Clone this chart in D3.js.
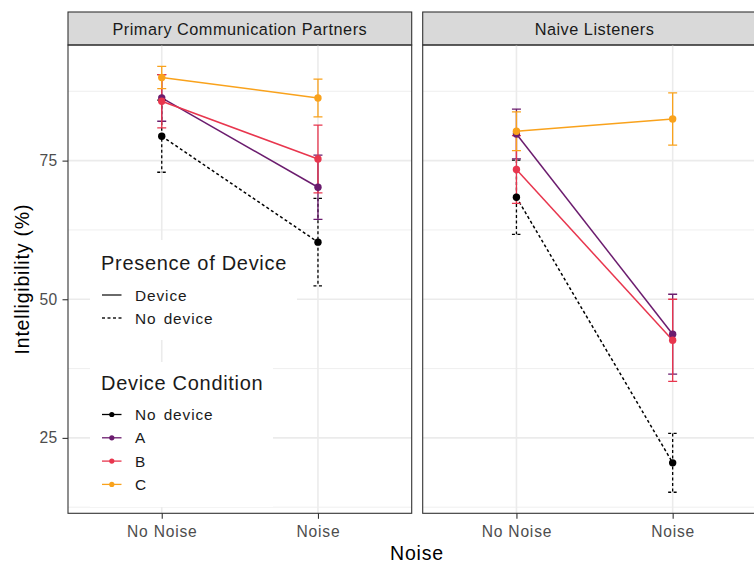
<!DOCTYPE html>
<html>
<head>
<meta charset="utf-8">
<script src="https://cdn.jsdelivr.net/npm/d3@7/dist/d3.min.js"></script>
<style>
  body { margin: 0; background: #fff; overflow: hidden; }
  svg { display: block; font-family: "Liberation Sans", Arial, sans-serif; }
</style>
</head>
<body>
<svg id="chart" width="754" height="563"></svg>
<script>
// data
const noiseLevels = ['No Noise', 'Noise'];
const listenerGroups = ['Primary Communication Partners', 'Naive Listeners'];
const conditions = ['No device', 'A', 'B', 'C'];
const presence = ['Device', 'No device'];
const yTicks = [25, 50, 75];

// rows follow `conditions`, columns follow `noiseLevels`
const pcpMean = [[79.4, 60.3], [86.3, 70.2], [85.7, 75.3], [90.0, 86.3]];
const pcpErr = [[6.5, 7.9], [4.2, 5.8], [4.8, 6.1], [2.0, 3.4]];
const nlMean = [[68.4, 20.5], [79.8, 43.7], [73.4, 42.6], [80.3, 82.5]];
const nlErr = [[6.7, 5.3], [4.5, 7.2], [6.1, 7.4], [3.5, 4.7]];

const panelData = [
  { mean: pcpMean, err: pcpErr },
  { mean: nlMean, err: nlErr }
];

const svg = d3.select('#chart');

const panelW = 343.7;
const panelTop = 45;
const panelBottom = 513.3;
const stripTop = 12;
const panelLefts = [68, 422.7];
const font = '"Liberation Sans", Arial, sans-serif';

const color = d3.scaleOrdinal()
  .domain(conditions)
  .range(['#000000', '#6B1C6E', '#E8364E', '#F9A21C']);
const dashOf = c => (c === 'No device' ? '3,2.5' : null);

const x = d3.scalePoint().domain(noiseLevels).range([0, panelW]).padding(0.6);
const y = d3.scaleLinear().domain([11.4, 95.85]).range([panelBottom, panelTop]);
const minorTicks = [12.5, 37.5, 62.5, 87.5];

listenerGroups.forEach((group, gi) => {
  const g = svg.append('g').attr('transform', 'translate(' + panelLefts[gi] + ',0)');
  const data = panelData[gi];

  // strip
  g.append('rect')
    .attr('x', 0).attr('y', stripTop)
    .attr('width', panelW).attr('height', panelTop - stripTop)
    .attr('fill', '#D9D9D9').attr('stroke', '#333333').attr('stroke-width', 1.1);
  g.append('text')
    .attr('x', panelW / 2).attr('y', 35)
    .attr('text-anchor', 'middle').attr('font-size', 16.3).attr('letter-spacing', 0.5)
    .attr('fill', '#1A1A1A')
    .text(group);

  // grid
  g.selectAll('.minor').data(minorTicks).enter().append('line')
    .attr('x1', 0).attr('x2', panelW)
    .attr('y1', d => y(d)).attr('y2', d => y(d))
    .attr('stroke', '#EBEBEB').attr('stroke-width', 0.8);
  g.selectAll('.major').data(yTicks).enter().append('line')
    .attr('x1', 0).attr('x2', panelW)
    .attr('y1', d => y(d)).attr('y2', d => y(d))
    .attr('stroke', '#EBEBEB').attr('stroke-width', 1.6);
  g.selectAll('.vgrid').data(noiseLevels).enter().append('line')
    .attr('x1', d => x(d)).attr('x2', d => x(d))
    .attr('y1', panelTop).attr('y2', panelBottom)
    .attr('stroke', '#EBEBEB').attr('stroke-width', 1.6);

  const series = conditions.map((c, ci) => ({
    cond: c,
    pts: noiseLevels.map((n, ni) => ({ n: n, m: data.mean[ci][ni], e: data.err[ci][ni] }))
  }));

  const line = d3.line().x(d => x(d.n)).y(d => y(d.m));

  // lines
  g.selectAll('.series').data(series).enter().append('path')
    .attr('d', d => line(d.pts))
    .attr('fill', 'none')
    .attr('stroke', d => color(d.cond))
    .attr('stroke-width', 1.5)
    .attr('stroke-dasharray', d => dashOf(d.cond));

  // error bars
  series.forEach(s => {
    const eb = g.append('g');
    s.pts.forEach(p => {
      const cx = x(p.n);
      eb.append('path')
        .attr('d', 'M' + (cx - 4.5) + ',' + y(p.m + p.e) + 'H' + (cx + 4.5) +
          'M' + cx + ',' + y(p.m + p.e) + 'V' + y(p.m - p.e) +
          'M' + (cx - 4.5) + ',' + y(p.m - p.e) + 'H' + (cx + 4.5))
        .attr('fill', 'none')
        .attr('stroke', color(s.cond))
        .attr('stroke-width', 1.3)
        .attr('stroke-dasharray', dashOf(s.cond));
    });
  });

  // points
  series.forEach(s => {
    g.selectAll(null).data(s.pts).enter().append('circle')
      .attr('cx', d => x(d.n)).attr('cy', d => y(d.m))
      .attr('r', 3.7)
      .attr('fill', color(s.cond));
  });

  // panel border
  g.append('rect')
    .attr('x', 0).attr('y', panelTop)
    .attr('width', panelW).attr('height', panelBottom - panelTop)
    .attr('fill', 'none').attr('stroke', '#333333').attr('stroke-width', 1.1);

  // x axis
  const xAxis = g.append('g').attr('transform', 'translate(0,' + panelBottom + ')')
    .call(d3.axisBottom(x).tickSize(5.5).tickPadding(7));
  xAxis.select('.domain').remove();
  xAxis.selectAll('line').attr('stroke', '#333333').attr('stroke-width', 1.1);
  xAxis.selectAll('text').attr('font-size', 15.6).attr('letter-spacing', 0.8)
    .attr('fill', '#4D4D4D').attr('font-family', font);
});

// y axis
const yAxis = svg.append('g').attr('transform', 'translate(' + panelLefts[0] + ',0)')
  .call(d3.axisLeft(y).tickValues(yTicks).tickSize(5.5).tickPadding(5));
yAxis.select('.domain').remove();
yAxis.selectAll('line').attr('stroke', '#333333').attr('stroke-width', 1.1);
yAxis.selectAll('text').attr('font-size', 15.6).attr('letter-spacing', 0.3)
  .attr('fill', '#4D4D4D').attr('font-family', font);

// axis titles
svg.append('text')
  .attr('x', 417).attr('y', 560)
  .attr('text-anchor', 'middle').attr('font-size', 19.5).attr('letter-spacing', 0.8)
  .attr('fill', '#000')
  .text('Noise');
svg.append('text')
  .attr('transform', 'translate(29,' + (panelTop + panelBottom) / 2 + ') rotate(-90)')
  .attr('text-anchor', 'middle').attr('font-size', 19.5).attr('letter-spacing', 0.8)
  .attr('fill', '#000')
  .text('Intelligibility (%)');

// legends
const lg1 = svg.append('g');
lg1.append('rect').attr('x', 90).attr('y', 240).attr('width', 207).attr('height', 100).attr('fill', '#fff');
lg1.append('text').attr('x', 101).attr('y', 270).attr('font-size', 20).attr('letter-spacing', 0.7)
  .attr('fill', '#1A1A1A')
  .text('Presence of Device');
presence.forEach((p, i) => {
  const yy = 295 + i * 23;
  lg1.append('line')
    .attr('x1', 102).attr('x2', 121.5).attr('y1', yy).attr('y2', yy)
    .attr('stroke', '#1A1A1A').attr('stroke-width', 1.3)
    .attr('stroke-dasharray', dashOf(p));
  lg1.append('text').attr('x', 135).attr('y', yy + 5.5).attr('font-size', 15.4)
    .attr('letter-spacing', 0.9).attr('word-spacing', 2).attr('fill', '#1A1A1A')
    .text(p);
});

const lg2 = svg.append('g');
lg2.append('rect').attr('x', 90).attr('y', 362).attr('width', 183).attr('height', 145).attr('fill', '#fff');
lg2.append('text').attr('x', 101).attr('y', 390).attr('font-size', 20).attr('letter-spacing', 0.7)
  .attr('fill', '#1A1A1A')
  .text('Device Condition');
conditions.forEach((c, i) => {
  const yy = 414.5 + i * 23.3;
  lg2.append('line')
    .attr('x1', 102).attr('x2', 121.5).attr('y1', yy).attr('y2', yy)
    .attr('stroke', color(c)).attr('stroke-width', 1.3);
  lg2.append('circle').attr('cx', 111.8).attr('cy', yy).attr('r', 2.6).attr('fill', color(c));
  lg2.append('text').attr('x', 135).attr('y', yy + 5.5).attr('font-size', 15.4)
    .attr('letter-spacing', 0.9).attr('word-spacing', 2).attr('fill', '#1A1A1A')
    .text(c);
});
</script>
</body>
</html>
